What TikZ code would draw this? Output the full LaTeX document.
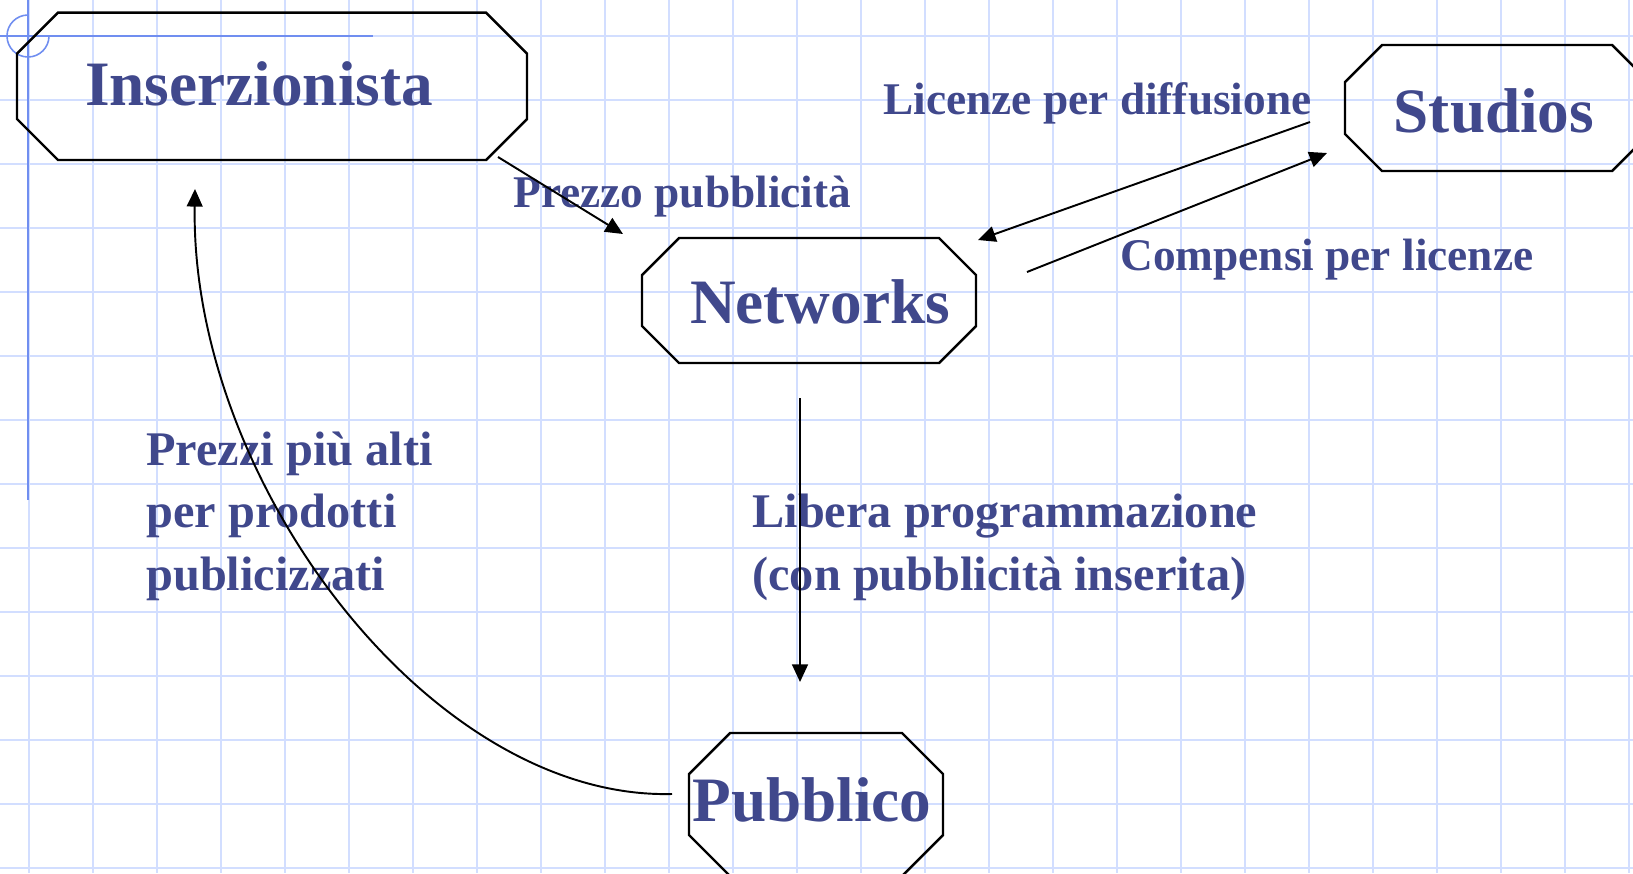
\documentclass[tikz,border=0pt]{standalone}
\usepackage{fontspec}
\setmainfont{Liberation Serif}
\usetikzlibrary{arrows.meta}

\definecolor{testo}{RGB}{64,72,140}
\definecolor{griglia}{RGB}{210,222,255}
\definecolor{bordo}{RGB}{112,142,240}

% ottagono: centro x, centro y, mezza larghezza, mezza altezza, taglio
\newcommand{\ottagono}[5]{%
  \draw[ottlinea, shift={(#1,#2)}] (-#3+#5,-#4) -- (#3-#5,-#4) -- (#3,-#4+#5) -- (#3,#4-#5)
    -- (#3-#5,#4) -- (-#3+#5,#4) -- (-#3,#4-#5) -- (-#3,-#4+#5) -- cycle;}

\tikzset{
  nodo/.style={font=\bfseries\fontsize{36}{36}\selectfont, anchor=base},
  etichetta/.style={font=\bfseries\fontsize{25.8}{35.5}\selectfont, anchor=base west, align=left},
  etichettagrande/.style={etichetta, font=\bfseries\fontsize{27.5}{35.5}\selectfont},
  freccia/.style={-{Triangle[length=10pt,width=9pt]}, line width=1.1pt},
  ottlinea/.style={line width=1.4pt}
}

\begin{document}
\begin{tikzpicture}[x=0.02cm, y=-0.02cm, every node/.style={inner sep=0pt, text=testo}]

\useasboundingbox (0,0) rectangle (1633,873);

% Quadretti
\foreach \i in {0,...,25} \draw[griglia, line width=1.1pt] (29+64*\i,0) -- (29+64*\i,873);
\foreach \j in {0,...,13} \draw[griglia, line width=1.1pt] (0,36+64*\j) -- (1633,36+64*\j);
\draw[bordo, line width=1.1pt] (28,0) -- (28,500);
\draw[bordo, line width=1.1pt] (0,36) -- (373,36);
\draw[bordo, line width=0.9pt] (49,36) arc[start angle=0, end angle=270, radius=21];

% Nodi
\node[nodo] (ins) at (259,105) {Inserzionista};
\node[nodo] (net) at (820,323) {Networks};
\node[nodo] (stu) at (1494,132) {Studios};
\node[nodo] (pub) at (812,821) {Pubblico};

\ottagono{272}{86.3}{255}{73.7}{41}
\ottagono{809}{300.5}{167}{62.5}{37}
\ottagono{1497}{108}{152}{63}{37}
\ottagono{816}{804.5}{127}{71.5}{41}

% Etichette
\node[etichetta] (prezzo) at (513,207) {Prezzo pubblicità};
\node[etichetta] (licenze) at (883,114) {Licenze per diffusione};
\node[etichetta] (compensi) at (1120,270) {Compensi per licenze};
\node[etichettagrande] (libera) at (752,590) {Libera programmazione\\(con pubblicità inserita)};
\node[etichettagrande] (prezzi) at (146,590) {Prezzi più alti\\per prodotti\\publicizzati};

% Estremi delle frecce
\coordinate (insA) at (498,157);
\coordinate (netA) at (623,234);
\coordinate (stuA) at (1310,122);
\coordinate (netB) at (978,240);
\coordinate (netC) at (1027,272);
\coordinate (stuB) at (1327,153);
\coordinate (netD) at (800,398);
\coordinate (pubA) at (800,682);
\coordinate (pubB) at (672,794);
\coordinate (insB) at (195,189);

% Archi
\draw[freccia] (insA) -- (netA);
\draw[freccia] (stuA) -- (netB);
\draw[freccia] (netC) -- (stuB);
\draw[freccia] (netD) -- (pubA);
\draw[freccia] (pubB) .. controls (430,800) and (190,480) .. (insB);

\end{tikzpicture}
\end{document}
